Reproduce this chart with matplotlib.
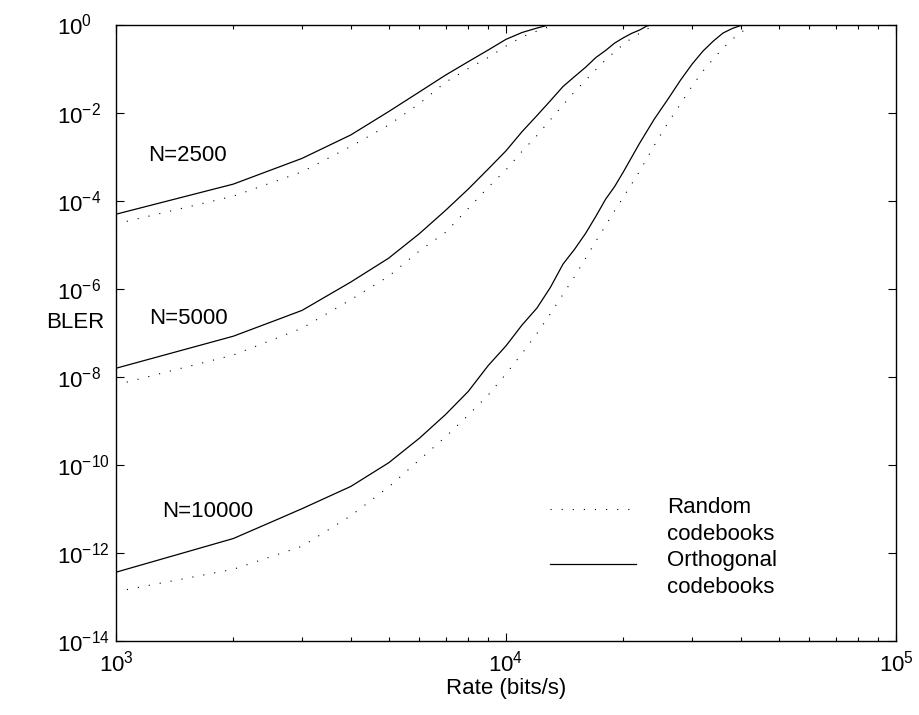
import math
import matplotlib
matplotlib.use('Agg')
import matplotlib.pyplot as plt
from matplotlib.ticker import FixedLocator, LogLocator, NullFormatter, FuncFormatter

plt.rcParams['font.family'] = ['Liberation Sans', 'DejaVu Sans']
plt.rcParams['mathtext.fontset'] = 'custom'
plt.rcParams['mathtext.rm'] = 'Liberation Sans'
plt.rcParams['mathtext.it'] = 'Liberation Sans:italic'
plt.rcParams['mathtext.bf'] = 'Liberation Sans:bold'
plt.rcParams['lines.scale_dashes'] = False

# data (rate in bits/s, BLER)
rate_2500_orth = [1000, 2000, 3000, 4000, 5000, 6000, 7000, 8000, 9000, 10000,
                  11000, 12000, 13000, 100000]
bler_2500_orth = [4.9e-5, 2.37e-4, 9.1e-4, 3.1e-3, 1.05e-2, 2.95e-2, 7.1e-2, 0.143,
                  0.263, 0.461, 0.66, 0.83, 1.0, 1.0]

rate_2500_rand = [1000, 2000, 3000, 4000, 5000, 6000, 7000, 8000, 9000, 10000,
                  11000, 12000, 13000, 13500, 100000]
bler_2500_rand = [2.95e-5, 1.26e-4, 4.5e-4, 1.7e-3, 5.2e-3, 1.6e-2, 4.9e-2, 0.1,
                  0.178, 0.324, 0.525, 0.71, 0.91, 1.0, 1.0]

rate_5000_orth = [1000, 2000, 3000, 4000, 5000, 6000, 7000, 8000, 9000, 10000,
                  11000, 12000, 13000, 14000, 15000, 16000, 17000, 18000, 19000,
                  20000, 21000, 22000, 23000, 24000, 100000]
bler_5000_orth = [1.55e-8, 8.3e-8, 3.2e-7, 1.41e-6, 4.9e-6, 1.78e-5, 6.0e-5, 1.82e-4,
                  5.2e-4, 1.35e-3, 3.7e-3, 8.5e-3, 1.86e-2, 3.9e-2, 6.6e-2, 0.107,
                  0.178, 0.257, 0.38, 0.50, 0.63, 0.75, 0.93, 1.0, 1.0]

rate_5000_rand = [1000, 2000, 3000, 4000, 5000, 6000, 7000, 8000, 9000, 10000,
                  11000, 12000, 13000, 14000, 15000, 16000, 17000, 18000, 19000,
                  20000, 21000, 22000, 23000, 24000, 25000, 100000]
bler_5000_rand = [6.5e-9, 3.1e-8, 1.26e-7, 5.6e-7, 1.9e-6, 7.2e-6, 1.9e-5, 6.6e-5,
                  2.0e-4, 5.0e-4, 1.32e-3, 3.0e-3, 6.9e-3, 1.48e-2, 3.0e-2, 5.4e-2,
                  9.5e-2, 0.158, 0.24, 0.355, 0.49, 0.63, 0.79, 0.93, 1.0, 1.0]

rate_10000_orth = [1000, 2000, 3000, 4000, 5000, 6000, 7000, 8000, 9000, 10000,
                   11000, 12000, 13000, 14000, 15000, 16000, 17000, 18000, 19000,
                   20000, 22000, 24000, 26000, 28000, 30000, 32000, 34000, 36000,
                   38000, 40000, 41000, 100000]
bler_10000_orth = [3.6e-13, 2.1e-12, 1.0e-11, 3.2e-11, 1.1e-10, 4.0e-10, 1.38e-9,
                   4.6e-9, 1.78e-8, 5.0e-8, 1.5e-7, 3.6e-7, 1.07e-6, 3.6e-6, 7.9e-6,
                   1.8e-5, 4.4e-5, 1.07e-4, 2.1e-4, 4.5e-4, 2.0e-3, 7.1e-3, 2.0e-2,
                   5.4e-2, 0.126, 0.25, 0.42, 0.64, 0.81, 0.95, 1.0, 1.0]

rate_10000_rand = [1000, 2000, 3000, 4000, 5000, 6000, 7000, 8000, 9000, 10000,
                   11000, 12000, 13000, 14000, 15000, 16000, 17000, 18000, 19000,
                   20000, 22000, 24000, 26000, 28000, 30000, 32000, 34000, 36000,
                   38000, 40000, 41000, 42000, 43000, 100000]
bler_10000_rand = [1.3e-13, 4.2e-13, 1.4e-12, 6.9e-12, 3.1e-11, 1.29e-10, 4.3e-10,
                   1.33e-9, 3.8e-9, 1.15e-8, 3.4e-8, 9.5e-8, 2.7e-7, 7.4e-7, 1.9e-6,
                   4.9e-6, 1.2e-5, 2.7e-5, 5.9e-5, 1.2e-4, 4.6e-4, 1.8e-3, 5.8e-3,
                   1.55e-2, 4.0e-2, 8.8e-2, 0.165, 0.29, 0.46, 0.66, 0.76, 0.86, 1.0, 1.0]

curve_labels = ['N=2500', 'N=5000', 'N=10000']
label_rates = [1525, 1530, 1720]
label_blers = [1.08e-3, 2.1e-7, 8.5e-12]

y_ticks = [1e-14, 1e-12, 1e-10, 1e-8, 1e-6, 1e-4, 1e-2, 1e0]
x_ticks = [1e3, 1e4, 1e5]

fig = plt.figure(figsize=(9.19, 7.15), dpi=100)
ax = fig.add_axes([0.1262, 0.1039, 0.975 - 0.1262, 0.9657 - 0.1039])

dot_style = dict(color='black', lw=0.8, linestyle=(0, (0.8, 7.2)))
solid_style = dict(color='black', lw=0.9)

ax.plot(rate_2500_rand, bler_2500_rand, **dot_style)
ax.plot(rate_2500_orth, bler_2500_orth, **solid_style)
ax.plot(rate_5000_rand, bler_5000_rand, **dot_style)
ax.plot(rate_5000_orth, bler_5000_orth, **solid_style)
ax.plot(rate_10000_rand, bler_10000_rand, **dot_style)
ax.plot(rate_10000_orth, bler_10000_orth, **solid_style)

ax.set_xscale('log')
ax.set_yscale('log')
ax.set_xlim(1e3, 1e5)
ax.set_ylim(1e-14, 1)


def pow_fmt(v, pos):
    return r'$10^{%d}$' % round(math.log10(v))


ax.xaxis.set_major_locator(FixedLocator(x_ticks))
ax.xaxis.set_minor_locator(LogLocator(base=10, subs=range(2, 10)))
ax.xaxis.set_minor_formatter(NullFormatter())
ax.xaxis.set_major_formatter(FuncFormatter(pow_fmt))
ax.yaxis.set_major_locator(FixedLocator(y_ticks))
ax.yaxis.set_minor_locator(FixedLocator([]))
ax.yaxis.set_major_formatter(FuncFormatter(pow_fmt))

ax.tick_params(which='both', direction='in', top=True, right=True, width=0.8)
ax.tick_params(which='major', length=5.5, labelsize=16)
ax.tick_params(which='minor', length=3)
ax.tick_params(axis='y', pad=42.5)
ax.tick_params(axis='x', pad=7)
for lab in ax.get_yticklabels():
    lab.set_ha('left')
for s in ax.spines.values():
    s.set_linewidth(1.0)

ax.set_xlabel('Rate (bits/s)', fontsize=16)
ax.xaxis.set_label_coords(0.5, -0.078)
ax.xaxis.label.set_va('center')
ax.set_ylabel('BLER', fontsize=16, rotation=0)
ax.yaxis.set_label_coords(-0.0526, 0.517)
ax.yaxis.label.set_va('center')
ax.yaxis.label.set_ha('center')

for txt, xr, yb in zip(curve_labels, label_rates, label_blers):
    ax.text(xr, yb, txt, fontsize=16, ha='center', va='center')

# hand-made legend
ax.plot([0.556, 0.66], [0.213, 0.213], transform=ax.transAxes, **dot_style)
ax.plot([0.556, 0.667], [0.124, 0.124], transform=ax.transAxes, **solid_style)
ax.text(0.706, 0.151, 'Random\ncodebooks\nOrthogonal\ncodebooks', transform=ax.transAxes,
        fontsize=16, ha='left', va='center', linespacing=1.35)

fig.savefig('out.png', dpi=100)
